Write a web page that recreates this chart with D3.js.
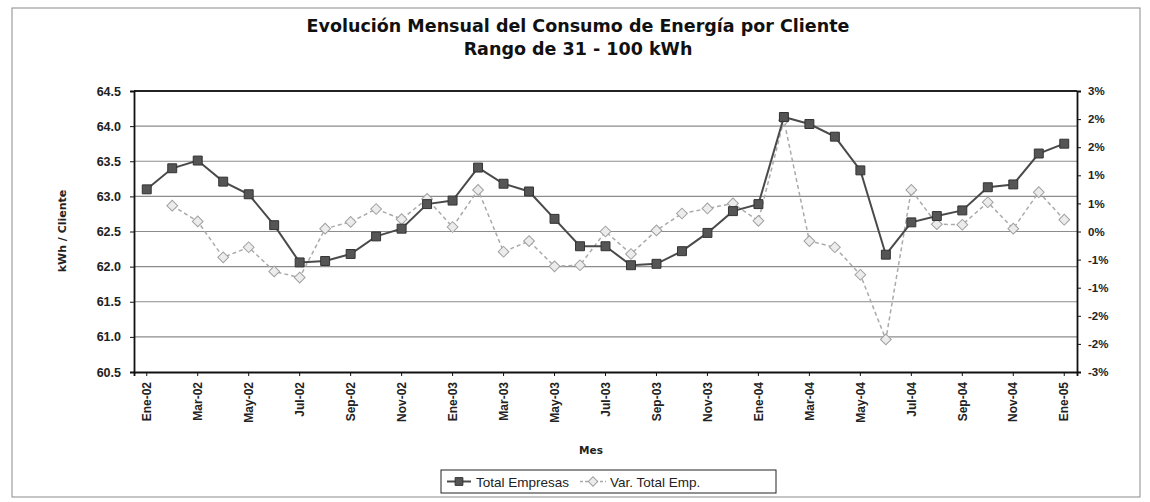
<!DOCTYPE html>
<html lang="es">
  <head>
    <meta charset="UTF-8" />
    <title>Evolución Mensual del Consumo de Energía por Cliente</title>
    <script src="https://d3js.org/d3.v7.min.js"></script>
    <style>
      body {
        margin: 0;
        padding: 0;
        background: #fff;
      }
      svg {
        display: block;
        font-family: "DejaVu Sans", sans-serif;
      }
      .tick text {
        font-weight: bold;
        fill: #222;
      }
      .axis-title {
        font-weight: bold;
        fill: #222;
      }
      .chart-title {
        font-size: 17.5px;
        font-weight: bold;
        fill: #111;
      }
      .legend-text {
        font-family: "Liberation Sans", Arial, sans-serif;
        font-size: 13.5px;
        fill: #222;
      }
    </style>
  </head>
  <body>
    <svg width="1150" height="502"></svg>
    <script>
      const months = [
        "Ene-02", "Feb-02", "Mar-02", "Abr-02", "May-02", "Jun-02", "Jul-02", "Ago-02", "Sep-02", "Oct-02", "Nov-02", "Dic-02",
        "Ene-03", "Feb-03", "Mar-03", "Abr-03", "May-03", "Jun-03", "Jul-03", "Ago-03", "Sep-03", "Oct-03", "Nov-03", "Dic-03",
        "Ene-04", "Feb-04", "Mar-04", "Abr-04", "May-04", "Jun-04", "Jul-04", "Ago-04", "Sep-04", "Oct-04", "Nov-04", "Dic-04",
        "Ene-05"
      ];

      // kWh / cliente
      const totalEmpresas = [
        63.10, 63.40, 63.51, 63.21, 63.03, 62.59, 62.06, 62.08, 62.18, 62.43, 62.54, 62.89,
        62.94, 63.41, 63.18, 63.07, 62.68, 62.29, 62.29, 62.02, 62.04, 62.22, 62.48, 62.79,
        62.89, 64.13, 64.03, 63.85, 63.37, 62.17, 62.63, 62.72, 62.80, 63.13, 63.17, 63.61,
        63.75
      ];

      // variación mensual, en %
      const varTotalEmp = [
        null, 0.46, 0.18, -0.46, -0.28, -0.71, -0.82, 0.05, 0.17, 0.40, 0.22, 0.58,
        0.08, 0.74, -0.36, -0.17, -0.62, -0.60, 0.00, -0.40, 0.02, 0.32, 0.41, 0.50,
        0.19, 1.98, -0.17, -0.28, -0.77, -1.92, 0.74, 0.13, 0.12, 0.52, 0.05, 0.70,
        0.21
      ];

      const leftTicks = [60.5, 61.0, 61.5, 62.0, 62.5, 63.0, 63.5, 64.0, 64.5];
      const rightTicks = [-2.5, -2.0, -1.5, -1.0, -0.5, 0, 0.5, 1.0, 1.5, 2.0, 2.5];
      const rightTickLabels = ["-3%", "-2%", "-2%", "-1%", "-1%", "0%", "1%", "1%", "2%", "2%", "3%"];

      const svg = d3.select("svg");
      const plot = { left: 134, right: 1077, top: 91, bottom: 372 };

      const x = d3.scaleBand().domain(months).range([plot.left, plot.right]).padding(0);
      const cx = (m) => x(m) + x.bandwidth() / 2;
      const yL = d3.scaleLinear().domain([60.5, 64.5]).range([plot.bottom, plot.top]);
      const yR = d3.scaleLinear().domain([-2.5, 2.5]).range([plot.bottom, plot.top]);

      // outer frame
      svg.append("rect")
        .attr("x", 12).attr("y", 8)
        .attr("width", 1128).attr("height", 489)
        .attr("fill", "none").attr("stroke", "#8a8a8a").attr("stroke-width", 1);

      // titles
      svg.append("text").attr("class", "chart-title")
        .attr("x", 578).attr("y", 32).attr("text-anchor", "middle")
        .text("Evolución Mensual del Consumo de Energía por Cliente");
      svg.append("text").attr("class", "chart-title")
        .attr("x", 578).attr("y", 55).attr("text-anchor", "middle")
        .text("Rango de 31 - 100 kWh");

      // gridlines
      svg.append("g")
        .selectAll("line")
        .data(leftTicks.slice(1, -1))
        .join("line")
        .attr("x1", plot.left).attr("x2", plot.right)
        .attr("y1", (d) => yL(d)).attr("y2", (d) => yL(d))
        .attr("stroke", "#8c8c8c").attr("stroke-width", 1.2);

      // top border
      svg.append("line")
        .attr("x1", plot.left).attr("x2", plot.right)
        .attr("y1", plot.top).attr("y2", plot.top)
        .attr("stroke", "#222").attr("stroke-width", 2);

      // axes
      const axL = svg.append("g")
        .attr("transform", `translate(${plot.left},0)`)
        .call(d3.axisLeft(yL).tickValues(leftTicks).tickFormat(d3.format(".1f")).tickSize(4).tickPadding(9));
      axL.selectAll("text").style("font-size", "12.5px");

      const axR = svg.append("g")
        .attr("transform", `translate(${plot.right},0)`)
        .call(d3.axisRight(yR).tickValues(rightTicks)
          .tickFormat((d, i) => rightTickLabels[i]).tickSize(4).tickPadding(7));
      axR.selectAll("text").style("font-size", "11.5px");

      const axB = svg.append("g")
        .attr("transform", `translate(0,${plot.bottom})`)
        .call(d3.axisBottom(x).tickValues(months.filter((d, i) => i % 2 === 0)).tickSize(4));
      axB.selectAll("text")
        .style("font-size", "12px")
        .attr("transform", "rotate(-90)")
        .attr("text-anchor", "end")
        .attr("x", -10).attr("y", 0).attr("dy", "0.35em");

      [axL, axR, axB].forEach((g) => {
        g.selectAll(".domain").attr("stroke", "#111").attr("stroke-width", 1.8);
        g.selectAll(".tick line").attr("stroke", "#111");
      });

      // axis titles
      svg.append("text").attr("class", "axis-title")
        .attr("transform", "translate(66,231) rotate(-90)")
        .attr("text-anchor", "middle")
        .style("font-size", "11px")
        .text("kWh / Cliente");
      svg.append("text").attr("class", "axis-title")
        .attr("x", 591).attr("y", 454).attr("text-anchor", "middle")
        .style("font-size", "10.5px")
        .text("Mes");

      // series: Var. Total Emp. (right axis)
      const varPts = months.map((m, i) => ({ m, v: varTotalEmp[i] })).filter((d) => d.v !== null);
      svg.append("path")
        .datum(varPts)
        .attr("fill", "none")
        .attr("stroke", "#aaa")
        .attr("stroke-width", 1.5)
        .attr("stroke-dasharray", "4,3")
        .attr("d", d3.line().x((d) => cx(d.m)).y((d) => yR(d.v)));
      svg.append("g")
        .selectAll("path")
        .data(varPts)
        .join("path")
        .attr("transform", (d) => `translate(${cx(d.m)},${yR(d.v)}) rotate(45)`)
        .attr("d", d3.symbol(d3.symbolSquare, 58))
        .attr("fill", "#ececec")
        .attr("stroke", "#a0a0a0")
        .attr("stroke-width", 1);

      // series: Total Empresas (left axis)
      const totPts = months.map((m, i) => ({ m, v: totalEmpresas[i] }));
      svg.append("path")
        .datum(totPts)
        .attr("fill", "none")
        .attr("stroke", "#4a4a4a")
        .attr("stroke-width", 2)
        .attr("d", d3.line().x((d) => cx(d.m)).y((d) => yL(d.v)));
      svg.append("g")
        .selectAll("path")
        .data(totPts)
        .join("path")
        .attr("transform", (d) => `translate(${cx(d.m)},${yL(d.v)})`)
        .attr("d", d3.symbol(d3.symbolSquare, 80))
        .attr("fill", "#555")
        .attr("stroke", "#333")
        .attr("stroke-width", 1);

      // legend
      const lg = svg.append("g").attr("transform", "translate(441,470)");
      lg.append("rect")
        .attr("width", 335).attr("height", 23)
        .attr("fill", "#fff").attr("stroke", "#222").attr("stroke-width", 1);
      lg.append("line").attr("x1", 6).attr("x2", 30).attr("y1", 11.5).attr("y2", 11.5)
        .attr("stroke", "#4a4a4a").attr("stroke-width", 2);
      lg.append("path").attr("transform", "translate(18,11.5)")
        .attr("d", d3.symbol(d3.symbolSquare, 60)).attr("fill", "#555").attr("stroke", "#333");
      lg.append("text").attr("class", "legend-text").attr("x", 35).attr("y", 16.5).text("Total Empresas");
      lg.append("line").attr("x1", 139).attr("x2", 165).attr("y1", 11.5).attr("y2", 11.5)
        .attr("stroke", "#aaa").attr("stroke-width", 1.5).attr("stroke-dasharray", "3,2");
      lg.append("path").attr("transform", "translate(152,11.5) rotate(45)")
        .attr("d", d3.symbol(d3.symbolSquare, 45)).attr("fill", "#ececec").attr("stroke", "#a0a0a0");
      lg.append("text").attr("class", "legend-text").attr("x", 169).attr("y", 16.5).text("Var. Total Emp.");
    </script>
  </body>
</html>
